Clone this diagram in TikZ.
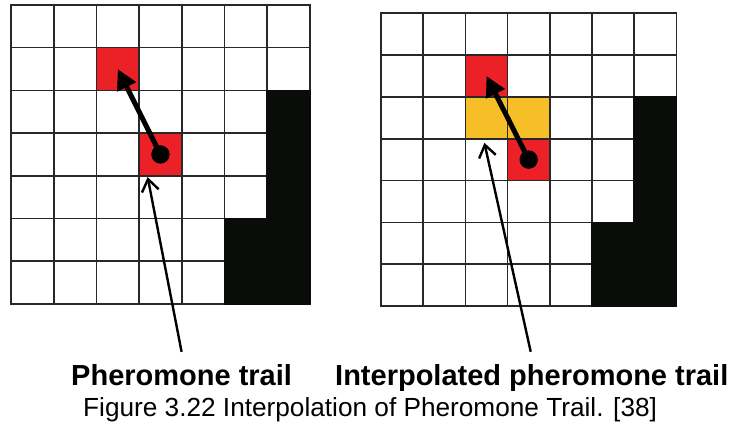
\documentclass[tikz,border=0pt]{standalone}
\usepackage{fontspec}
\setmainfont{Liberation Sans}
\usetikzlibrary{arrows.meta}

\definecolor{trailred}{RGB}{236,33,39}
\definecolor{interpamber}{RGB}{246,190,39}
\definecolor{obstacle}{RGB}{10,12,10}
\definecolor{gridgray}{RGB}{40,40,40}

\tikzset{
  gridline/.style={draw=gridgray, line width=1.6pt, line cap=rect},
  wall/.style={fill=obstacle, draw=obstacle, line width=1.6pt},
  cellbox/.style={draw=none, inner sep=0pt, outer sep=0pt},
  move/.style={line width=5pt, line cap=butt, -{Triangle[length=20pt,width=20pt]}},
  pointer/.style={line width=2.4pt, -{Straight Barb[length=12pt,width=17pt,line width=2.4pt]}},
  tag/.style={font=\fontsize{29}{34}\selectfont\bfseries, inner sep=0pt, anchor=base west},
  caption/.style={font=\fontsize{26.2}{31}\selectfont, inner sep=0pt, anchor=base west},
}

\begin{document}
\begin{tikzpicture}[x=1pt, y=-1pt]
\useasboundingbox[fill=white] (0,0) rectangle (730,425);

% ---- left grid: plain pheromone trail ----
\begin{scope}[shift={(11pt,-5pt)}, x=42.7pt, y=-42.7pt]
  \node[cellbox, fill=trailred, minimum size=42.7pt] (Lup) at (2.5,1.5) {};
  \node[cellbox, fill=trailred, minimum size=42.7pt] (Ldn) at (3.5,3.5) {};
  \foreach \k in {0,...,7} {
    \draw[gridline] (\k,0) -- (\k,7);
    \draw[gridline] (0,\k) -- (7,\k);
  }
  \filldraw[wall] (6,2) -- (7,2) -- (7,7) -- (5,7) -- (5,5) -- (6,5) -- cycle;
  \coordinate (Ltip) at (3.2,4.03);
\end{scope}

% ---- right grid: interpolated trail ----
\begin{scope}[shift={(381pt,-13.3pt)}, x=42.2pt, y=-41.8pt]
  \node[cellbox, fill=trailred, minimum width=42.2pt, minimum height=41.8pt] (Rup) at (2.5,1.5) {};
  \node[cellbox, fill=interpamber, minimum width=84.4pt, minimum height=41.8pt] (Rmid) at (3,2.5) {};
  \node[cellbox, fill=trailred, minimum width=42.2pt, minimum height=41.8pt] (Rdn) at (3.5,3.5) {};
  \foreach \k in {0,...,7} {
    \draw[gridline] (\k,0) -- (\k,7);
    \draw[gridline] (0,\k) -- (7,\k);
  }
  \filldraw[wall] (6,2) -- (7,2) -- (7,7) -- (5,7) -- (5,5) -- (6,5) -- cycle;
  \coordinate (Rtip) at (2.45,3.1);
\end{scope}

% ---- movement arrows with start dots ----
\draw[move] (Ldn.center) -- (Lup.center);
\fill[black] (Ldn.center) circle (9.2pt);
\draw[move] (Rdn.center) -- (Rup.center);
\fill[black] (Rdn.center) circle (9.2pt);

% ---- labels ----
\node[tag] (Llabel) at (71,385) {Pheromone trail};
\node[tag] (Rlabel) at (335,385) {Interpolated pheromone trail};
\node[caption] (cap) at (83,416) {Figure 3.22 Interpolation of Pheromone Trail. [38]};

% ---- label pointers ----
\draw[pointer] ([yshift=12pt]Llabel.north) -- (Ltip);
\coordinate (Rfoot) at (530.7,351.7);
\draw[pointer] (Rfoot) -- (Rtip);
\end{tikzpicture}
\end{document}
